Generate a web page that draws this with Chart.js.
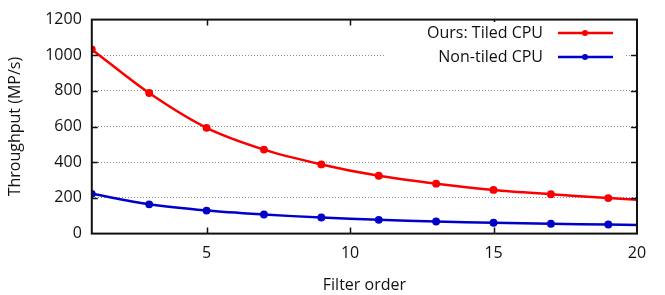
<!DOCTYPE html>
<html>
<head>
<meta charset="utf-8">
<script src="https://cdn.jsdelivr.net/npm/chart.js@4"></script>
<style>
  html, body { margin: 0; padding: 0; background: #fff; }
  #wrap { width: 665px; height: 295px; }
</style>
</head>
<body>
<div id="wrap"><canvas id="chart"></canvas></div>
<script>
const ctx = document.querySelector("#chart");

// filter orders (last one sits past the axis end and gets clipped)
const filterOrder = [1, 3, 5, 7, 9, 11, 13, 15, 17, 19, 21];
const tiledCpu = [1033, 788, 593, 471, 388, 324, 280, 245, 221, 199, 181];
const nonTiledCpu = [223, 164, 129, 107, 90, 77, 68, 61, 55, 51, 46];
const xTicks = [5, 10, 15, 20];
const yTicks = [0, 200, 400, 600, 800, 1000, 1200];

const RED = 'rgb(250, 0, 0)';
const BLUE = 'rgb(0, 0, 200)';
const FONT = '"Open Sans", sans-serif';
const TEXT = '#111';

const toPoints = vals => filterOrder.map((x, i) => ({ x: x, y: vals[i] }));

// frame, inward tick marks and the legend box, gnuplot style
const framePlugin = {
    id: 'frame',
    afterDatasetsDraw(chart) {
        const { ctx, chartArea: a, scales } = chart;
        ctx.save();
        ctx.strokeStyle = '#111';
        ctx.lineWidth = 1.5;
        xTicks.forEach(v => {
            if (v >= 20) return;
            const px = Math.round(scales.x.getPixelForValue(v)) + 0.5;
            ctx.beginPath();
            ctx.moveTo(px, a.bottom); ctx.lineTo(px, a.bottom - 6);
            ctx.moveTo(px, a.top); ctx.lineTo(px, a.top + 6);
            ctx.stroke();
        });
        yTicks.forEach(v => {
            if (v === 0 || v === 1200) return;
            const py = Math.round(scales.y.getPixelForValue(v)) + 0.5;
            ctx.beginPath();
            ctx.moveTo(a.left, py); ctx.lineTo(a.left + 6, py);
            ctx.moveTo(a.right, py); ctx.lineTo(a.right - 6, py);
            ctx.stroke();
        });
        ctx.lineWidth = 2;
        ctx.strokeRect(a.left, a.top, a.right - a.left, a.bottom - a.top);

        // legend
        ctx.fillStyle = '#fff';
        ctx.fillRect(386, 22, 240, 46);
        ctx.font = '16px ' + FONT;
        ctx.textAlign = 'right';
        ctx.textBaseline = 'middle';
        chart.data.datasets.forEach((ds, i) => {
            const y = 33 + i * 24;
            ctx.fillStyle = TEXT;
            ctx.fillText(ds.label, 543, y);
            ctx.strokeStyle = ds.borderColor;
            ctx.lineWidth = 2.5;
            ctx.beginPath();
            ctx.moveTo(558, y); ctx.lineTo(613, y);
            ctx.stroke();
            ctx.fillStyle = ds.borderColor;
            ctx.beginPath();
            ctx.arc(585, y, 3, 0, Math.PI * 2);
            ctx.fill();
        });
        ctx.restore();
    }
};

const config = {
    type: 'line',
    data: {
        datasets: [
            {
                label: 'Ours: Tiled CPU',
                data: toPoints(tiledCpu),
                borderColor: RED,
                backgroundColor: RED,
                borderWidth: 2.5,
                pointRadius: 2.7,
                tension: 0.3,
            },
            {
                label: 'Non-tiled CPU',
                data: toPoints(nonTiledCpu),
                borderColor: BLUE,
                backgroundColor: BLUE,
                borderWidth: 2.5,
                pointRadius: 2.7,
                tension: 0.3,
            },
        ],
    },
    options: {
        responsive: false,
        animation: false,
        layout: { padding: { top: 0, right: 28, left: 6, bottom: 0 } },
        plugins: {
            legend: { display: false },
            tooltip: { enabled: false },
        },
        scales: {
            x: {
                type: 'linear',
                min: 1,
                max: 20,
                afterBuildTicks: s => { s.ticks = xTicks.map(v => ({ value: v })); },
                grid: { display: false },
                border: { display: false },
                ticks: { color: TEXT, font: { family: FONT, size: 16 }, padding: 2, maxRotation: 0,
                         callback: v => String(v) },
                title: {
                    display: true,
                    text: 'Filter order',
                    color: TEXT,
                    font: { family: FONT, size: 16 },
                    padding: { top: 11, bottom: 0 },
                },
            },
            y: {
                min: 0,
                max: 1200,
                afterBuildTicks: s => { s.ticks = yTicks.map(v => ({ value: v })); },
                grid: {
                    drawTicks: false,
                    color: c => (c.tick && (c.tick.value === 0 || c.tick.value === 1200)) ? 'rgba(0,0,0,0)' : '#888',
                    lineWidth: 1,
                },
                border: { display: false, dash: [1, 2] },
                ticks: { color: TEXT, font: { family: FONT, size: 16 }, padding: 10,
                         callback: v => String(v) },
                title: {
                    display: true,
                    text: 'Throughput (MP/s)',
                    color: TEXT,
                    font: { family: FONT, size: 16 },
                    padding: { top: 0, bottom: 10 },
                },
            },
        },
    },
    plugins: [framePlugin],
};

ctx.width = 665;
ctx.height = 295;
new Chart(ctx, config);
</script>
</body>
</html>
